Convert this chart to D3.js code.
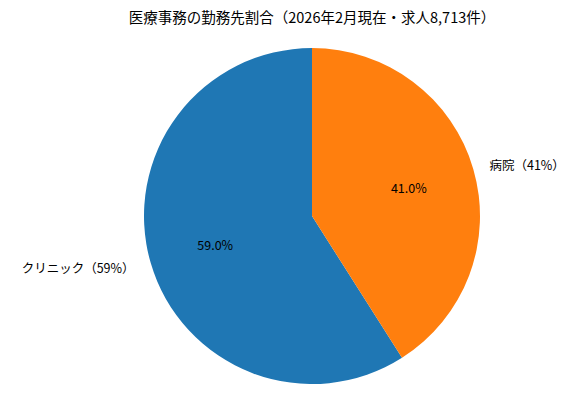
<!DOCTYPE html>
<meta charset="utf-8">
<head>
<script src="https://d3js.org/d3.v7.min.js"></script>
<style>
  body { margin: 0; background: white; }
  text { font-family: "Noto Sans CJK JP", sans-serif; fill: #000; }
</style>
</head>
<body>
<div id="chart"></div>
<script>
  // data
  let labels = ["クリニック（59%）", "病院（41%）"];
  let values = [59, 41];
  let colors = ["#1f77b4", "#ff7f0e"];
  let title = "医療事務の勤務先割合（2026年2月現在・求人8,713件）";

  let w = 583, h = 411;
  let cx = 312, cy = 216, r = 168;

  let svg = d3.select("#chart").append("svg")
              .attr("width", w).attr("height", h);

  svg.append("text")
     .attr("x", cx).attr("y", 23)
     .attr("text-anchor", "middle")
     .style("font-size", "14.5px")
     .text(title);

  // matplotlib startangle=90, counterclockwise -> first slice goes left from top
  let total = d3.sum(values);
  let arcs = [];
  let start = 0;
  values.forEach((v, i) => {
    let span = v / total * 2 * Math.PI;
    arcs.push({startAngle: -start - span, endAngle: -start, i: i, v: v});
    start += span;
  });

  let arc = d3.arc().innerRadius(0).outerRadius(r);
  let g = svg.append("g").attr("transform", `translate(${cx},${cy})`);

  g.selectAll("path")
   .data(arcs)
   .enter()
   .append("path")
   .attr("d", arc)
   .style("fill", (d) => colors[d.i]);

  let mid = (d) => (d.startAngle + d.endAngle) / 2;

  g.selectAll("text.pct")
   .data(arcs)
   .enter()
   .append("text")
   .attr("x", (d) => 0.6 * r * Math.sin(mid(d)))
   .attr("y", (d) => -0.6 * r * Math.cos(mid(d)))
   .attr("text-anchor", "middle")
   .attr("dominant-baseline", "central")
   .style("font-size", "12.5px")
   .text((d) => (d.v / total * 100).toFixed(1) + "%");

  g.selectAll("text.lab")
   .data(arcs)
   .enter()
   .append("text")
   .attr("x", (d) => 1.1 * r * Math.sin(mid(d)))
   .attr("y", (d) => -1.1 * r * Math.cos(mid(d)))
   .attr("text-anchor", (d) => Math.sin(mid(d)) < 0 ? "end" : "start")
   .attr("dominant-baseline", "central")
   .style("font-size", "12.5px")
   .text((d) => labels[d.i]);
</script>
</body>
